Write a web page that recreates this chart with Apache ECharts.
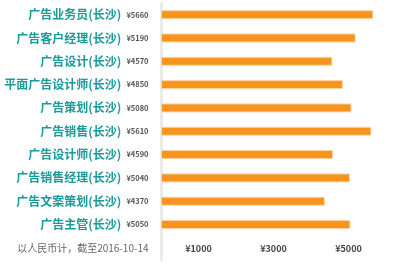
<!DOCTYPE html>
<html><head><meta charset="utf-8">
<script src="https://cdn.jsdelivr.net/npm/echarts@6/dist/echarts.min.js"></script>
<style>html,body{margin:0;padding:0;background:#fff}#c{width:400px;height:266px}</style>
</head><body><div id="c"></div>
<script>
var jobs = ['广告业务员(长沙)','广告客户经理(长沙)','广告设计(长沙)','平面广告设计师(长沙)','广告策划(长沙)','广告销售(长沙)','广告设计师(长沙)','广告销售经理(长沙)','广告文案策划(长沙)','广告主管(长沙)'];
var salaries = [5660,5190,4570,4850,5080,5610,4590,5040,4370,5050];
var footnote = '以人民币计，截至2016-10-14';
var tickValues = [1000,3000,5000];

var cats = jobs.concat([footnote]);
var vals = salaries.concat([null]);
var font = '"Noto Sans CJK SC", "Noto Sans", sans-serif';

var chart = echarts.init(document.getElementById('c'), null, {renderer:'canvas'});
chart.setOption({
  animation:false,
  grid:{left:161, right:14, top:3, bottom:6.5, containLabel:false, outerBoundsMode:'none'},
  xAxis:{type:'value', min:0, max:6000, interval:1000,
    axisLine:{show:false}, axisTick:{show:false}, splitLine:{show:false},
    axisLabel:{inside:true, margin:6, fontSize:9, fontWeight:'bold', color:'#444', fontFamily:font,
      formatter:function(v){return tickValues.indexOf(v)>=0 ? '¥'+v : '';}}
  },
  yAxis:{type:'category', data:cats, inverse:true, offset:2.5,
    axisLine:{show:true, lineStyle:{color:'#ebebeb', width:3}},
    axisTick:{show:false}, splitLine:{show:false},
    axisLabel:{margin:10, fontFamily:font,
      formatter:function(v, i){
        if (i >= jobs.length) return '{f|' + v + '}';
        return '{n|' + v + '}{v|¥' + salaries[i] + '}';
      },
      rich:{
        n:{fontSize:12, fontWeight:'bold', color:'#1b9a9a', fontFamily:font},
        v:{fontSize:7.5, fontWeight:'bold', color:'#555', padding:[0,0,0,5], fontFamily:font},
        f:{fontSize:10, color:'#666', fontFamily:font}
      }
    }
  },
  series:[{type:'bar', data:vals, barWidth:9,
    itemStyle:{color:'#f7931e', borderColor:'#fcd6a6', borderWidth:1}}]
});
</script></body></html>
